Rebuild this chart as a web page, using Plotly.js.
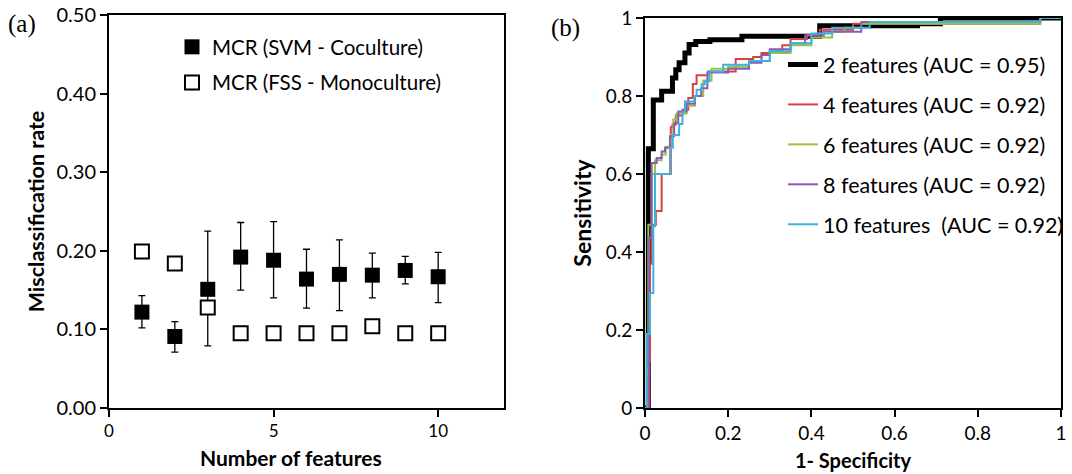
<!DOCTYPE html>
<html>
<head>
<meta charset="utf-8">
<script src="https://cdn.plot.ly/plotly-3.0.1.min.js"></script>
<style>html,body{margin:0;padding:0;background:#fff;}</style>
</head>
<body>
<div id="chart" style="width:1072px;height:474px;"></div>
<script>
// ---- Panel (a): misclassification rate ----
const nFeatures = [1, 2, 3, 4, 5, 6, 7, 8, 9, 10];
const svmMCR    = [0.122, 0.091, 0.151, 0.192, 0.188, 0.164, 0.170, 0.169, 0.175, 0.167];
const svmUpper  = [0.143, 0.110, 0.225, 0.236, 0.237, 0.202, 0.214, 0.197, 0.193, 0.198];
const svmLower  = [0.102, 0.071, 0.079, 0.150, 0.140, 0.127, 0.124, 0.140, 0.158, 0.134];
const fssMCR    = [0.199, 0.184, 0.128, 0.095, 0.095, 0.095, 0.095, 0.104, 0.095, 0.095];

// ---- Panel (b): ROC curves (points where each step rises; drawn 'hv') ----
const fpr2  = [0, 0.008, 0.02, 0.04, 0.066, 0.074, 0.082, 0.096, 0.106, 0.122, 0.156, 0.233, 0.42, 0.655, 0.71, 1];
const tpr2  = [0, 0.665, 0.79, 0.812, 0.846, 0.867, 0.885, 0.91, 0.932, 0.94, 0.944, 0.953, 0.98, 0.985, 1, 1];
const fpr4  = [0, 0.01, 0.012, 0.016, 0.026, 0.04, 0.062, 0.066, 0.074, 0.09, 0.104, 0.115, 0.124, 0.152, 0.218, 0.26, 0.28, 0.3, 0.33, 0.35, 0.39, 0.42, 0.5, 0.95, 1];
const tpr4  = [0, 0.12, 0.37, 0.47, 0.505, 0.6, 0.72, 0.726, 0.75, 0.765, 0.795, 0.831, 0.853, 0.863, 0.895, 0.9, 0.91, 0.915, 0.93, 0.946, 0.957, 0.97, 0.985, 1, 1];
const fpr6  = [0, 0.006, 0.008, 0.016, 0.024, 0.04, 0.05, 0.062, 0.068, 0.076, 0.1, 0.12, 0.14, 0.16, 0.2, 0.25, 0.3, 0.35, 0.4, 0.45, 0.48, 0.52, 0.95, 1];
const tpr6  = [0, 0.1, 0.47, 0.6, 0.635, 0.65, 0.67, 0.7, 0.74, 0.755, 0.775, 0.8, 0.84, 0.87, 0.875, 0.89, 0.91, 0.93, 0.95, 0.965, 0.975, 0.985, 1, 1];
const fpr8  = [0, 0.008, 0.01, 0.016, 0.028, 0.04, 0.048, 0.06, 0.07, 0.08, 0.1, 0.12, 0.135, 0.15, 0.2, 0.25, 0.28, 0.3, 0.35, 0.385, 0.43, 0.52, 0.95, 1];
const tpr8  = [0, 0.08, 0.436, 0.628, 0.641, 0.658, 0.667, 0.697, 0.73, 0.76, 0.78, 0.8, 0.82, 0.86, 0.87, 0.885, 0.905, 0.92, 0.935, 0.955, 0.965, 0.99, 1, 1];
const fpr10 = [0, 0.004, 0.012, 0.02, 0.024, 0.06, 0.067, 0.082, 0.09, 0.096, 0.119, 0.124, 0.136, 0.144, 0.155, 0.188, 0.25, 0.3, 0.35, 0.4, 0.45, 0.54, 0.95, 1];
const tpr10 = [0, 0.19, 0.295, 0.466, 0.6, 0.667, 0.7, 0.728, 0.76, 0.786, 0.8, 0.816, 0.83, 0.838, 0.863, 0.88, 0.89, 0.915, 0.935, 0.96, 0.975, 0.99, 1, 1];

const rocNames = ['2 features (AUC = 0.95)', '4 features (AUC = 0.92)', '6 features (AUC = 0.92)',
                  '8 features (AUC = 0.92)', '10\u00a0features\u00a0 (AUC = 0.92)'];
const rocColors = ['#000000', '#d8433e', '#9cc23e', '#8a5cb8', '#3ab4df'];

const FONT = 'Lato, Carlito, "Open Sans", sans-serif';

const traces = [
  {
    x: nFeatures, y: svmMCR, type: 'scatter', mode: 'markers',
    name: 'MCR (SVM - Coculture)', xaxis: 'x', yaxis: 'y', legend: 'legend',
    legendgroup: 'a1', legendrank: 1,
    marker: {symbol: 'square', size: 15, color: '#000'},
    error_y: {type: 'data', symmetric: false,
      array: svmUpper.map((u, i) => u - svmMCR[i]),
      arrayminus: svmLower.map((l, i) => svmMCR[i] - l),
      color: '#000', thickness: 1.3, width: 3.5}
  },
  {
    x: nFeatures, y: fssMCR, type: 'scatter', mode: 'markers',
    name: 'MCR (FSS - Monoculture)', xaxis: 'x', yaxis: 'y', legend: 'legend',
    legendgroup: 'a2', legendrank: 2,
    marker: {symbol: 'square', size: 14, color: '#fff', line: {color: '#000', width: 2}}
  }
];

const rocX = [fpr2, fpr4, fpr6, fpr8, fpr10];
const rocY = [tpr2, tpr4, tpr6, tpr8, tpr10];
rocX.forEach((xs, i) => {
  traces.push({
    x: xs, y: rocY[i], type: 'scatter', mode: 'lines',
    name: rocNames[i], xaxis: 'x2', yaxis: 'y2', legend: 'legend2',
    legendgroup: 'g' + i, legendrank: i + 1,
    line: {shape: 'hv', color: rocColors[i], width: i === 0 ? 5 : 2}
  });
});

const axCommon = {
  showline: true, linecolor: '#000', linewidth: 2, mirror: true,
  ticks: 'outside', ticklen: 7, tickwidth: 2, tickcolor: '#000',
  showgrid: false, zeroline: false, fixedrange: true
};

const layout = {
  width: 1072, height: 474,
  margin: {l: 0, r: 0, t: 0, b: 0},
  paper_bgcolor: '#fff', plot_bgcolor: '#fff',
  font: {family: FONT, color: '#000'},
  showlegend: true,
  xaxis: Object.assign({}, axCommon, {
    domain: [109/1072, 504/1072], range: [0, 12], tickvals: [0, 5, 10],
    tickfont: {family: FONT, size: 17},
    anchor: 'y'
  }),
  yaxis: Object.assign({}, axCommon, {
    domain: [1 - 408/474, 1 - 15/474], range: [0, 0.5], tickvals: [0, 0.1, 0.2, 0.3, 0.4, 0.5],
    tickformat: '.2f', tickfont: {family: FONT, size: 20},
    title: {text: 'Misclassification rate', font: {family: FONT, size: 21.5, weight: 'bold'}, standoff: 6},
    anchor: 'x'
  }),
  xaxis2: Object.assign({}, axCommon, {
    domain: [645/1072, 1061/1072], range: [0, 1], tickvals: [0, 0.2, 0.4, 0.6, 0.8, 1],
    tickfont: {family: FONT, size: 19},
    title: {text: '1- Specificity', font: {family: FONT, size: 20, weight: 'bold'}, standoff: 11},
    anchor: 'y2'
  }),
  yaxis2: Object.assign({}, axCommon, {
    domain: [1 - 408/474, 1 - 18/474], range: [0, 1], tickvals: [0, 0.2, 0.4, 0.6, 0.8, 1],
    tickfont: {family: FONT, size: 19},
    title: {text: 'Sensitivity', font: {family: FONT, size: 23, weight: 'bold'}, standoff: 8},
    anchor: 'x2'
  }),
  legend: {
    x: 172/1072, y: 1 - 27/474, xanchor: 'left', yanchor: 'top',
    bgcolor: 'rgba(0,0,0,0)', font: {family: FONT, size: 20.5},
    traceorder: 'grouped', tracegroupgap: 6, itemclick: false
  },
  legend2: {
    x: 783/1072, y: 1 - 44/474, xanchor: 'left', yanchor: 'top',
    bgcolor: 'rgba(0,0,0,0)', font: {family: FONT, size: 21.5},
    traceorder: 'grouped', tracegroupgap: 9, itemclick: false
  },
  annotations: [
    {text: 'Number of features', xref: 'paper', yref: 'paper', x: 291/1072, y: 1 - 457/474,
     xanchor: 'center', yanchor: 'middle', showarrow: false,
     font: {family: FONT, size: 21, weight: 'bold'}},
    {text: '(a)', xref: 'paper', yref: 'paper', x: 6/1072, y: 1 - 24/474, xanchor: 'left', yanchor: 'middle',
     showarrow: false, font: {family: '"Liberation Serif", "Times New Roman", serif', size: 25}},
    {text: '(b)', xref: 'paper', yref: 'paper', x: 549/1072, y: 1 - 28/474, xanchor: 'left', yanchor: 'middle',
     showarrow: false, font: {family: '"Liberation Serif", "Times New Roman", serif', size: 25}}
  ]
};

Plotly.newPlot('chart', traces, layout, {displayModeBar: false, staticPlot: true});
</script>
</body>
</html>
